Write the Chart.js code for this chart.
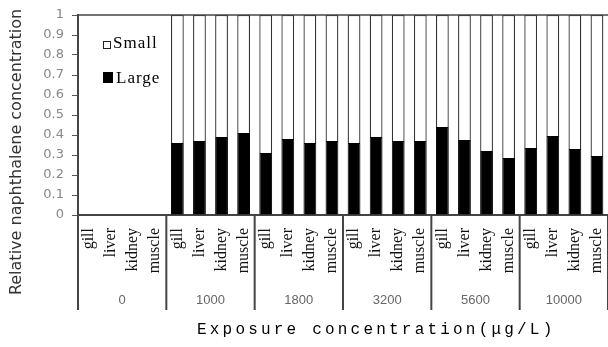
<!DOCTYPE html>
<html>
<head>
<meta charset="utf-8">
<script src="https://cdn.jsdelivr.net/npm/chart.js@4.4.1/dist/chart.umd.min.js"></script>
<style>
  html, body { margin: 0; padding: 0; background: #fff; }
  canvas { display: block; }
</style>
</head>
<body>
<canvas id="chart" width="608" height="347"></canvas>
<script>
// exposure groups (ug/L) and tissues inside each group
const groups = ['0', '1000', '1800', '3200', '5600', '10000'];
const tissues = ['gill', 'liver', 'kidney', 'muscle'];

// relative naphthalene concentration
const largeVals = [null, null, null, null,
    0.36, 0.37, 0.39, 0.41,
    0.31, 0.38, 0.36, 0.37,
    0.36, 0.39, 0.37, 0.37,
    0.44, 0.375, 0.32, 0.285,
    0.335, 0.395, 0.33, 0.295];
const smallVals = [null, null, null, null,
    0.64, 0.63, 0.61, 0.59,
    0.69, 0.62, 0.64, 0.63,
    0.64, 0.61, 0.63, 0.63,
    0.56, 0.625, 0.68, 0.715,
    0.665, 0.605, 0.67, 0.705];

const yMin = 0, yMax = 1, yStep = 0.1;
const xTitle = 'Exposure concentration(\u03bcg/L)';
const yTitle = 'Relative naphthalene concentration';

const labels = groups.flatMap(() => tissues);

// extra drawing: top border, group dividers + labels, legend, axis titles
const decor = {
    id: 'decor',
    afterDraw(chart) {
        const { ctx, chartArea } = chart;
        const x = chart.scales.x;
        const catW = (chartArea.right - chartArea.left) / labels.length;
        ctx.save();

        // top border
        ctx.strokeStyle = '#444';
        ctx.lineWidth = 1.5;
        ctx.beginPath();
        ctx.moveTo(chartArea.left, chartArea.top);
        ctx.lineTo(chartArea.right, chartArea.top);
        ctx.stroke();

        // group dividers and group names
        ctx.lineWidth = 2;
        ctx.strokeStyle = '#444';
        for (let g = 0; g <= groups.length; g++) {
            const px = chartArea.left + g * tissues.length * catW;
            ctx.beginPath();
            ctx.moveTo(px, chartArea.bottom);
            ctx.lineTo(px, 310);
            ctx.stroke();
        }
        ctx.fillStyle = '#666';
        ctx.font = '13px "Liberation Sans"';
        ctx.textAlign = 'center';
        ctx.textBaseline = 'middle';
        groups.forEach((g, i) => {
            const cx = (x.getPixelForValue(i * 4) + x.getPixelForValue(i * 4 + 3)) / 2;
            ctx.fillText(g, cx, 300);
        });

        // legend (Small above Large)
        ctx.font = '17px "Liberation Serif"';
        ctx.letterSpacing = '1px';
        ctx.textAlign = 'left';
        ctx.textBaseline = 'alphabetic';
        const ds = chart.data.datasets;
        ctx.strokeStyle = '#222';
        ctx.lineWidth = 1;
        ctx.fillStyle = '#fff';
        ctx.fillRect(103.5, 41.5, 7, 7);
        ctx.strokeRect(103.5, 41.5, 7, 7);
        ctx.fillStyle = '#000';
        ctx.fillText(ds[1].label, 113, 48);
        ctx.fillRect(103, 72, 10, 11);
        ctx.fillText(ds[0].label, 116, 83);

        // x title
        ctx.font = '16px "Liberation Mono"';
        ctx.letterSpacing = '3.2px';
        ctx.fillStyle = '#000';
        ctx.fillText(xTitle, 197, 334);

        // y title
        ctx.letterSpacing = '0px';
        ctx.translate(17, 152);
        ctx.rotate(-Math.PI / 2);
        ctx.font = '16px "DejaVu Sans"';
        ctx.fillStyle = '#333';
        ctx.textAlign = 'center';
        ctx.textBaseline = 'middle';
        ctx.fillText(yTitle, 0, 0);
        ctx.restore();
    }
};

new Chart(document.getElementById('chart').getContext('2d'), {
    type: 'bar',
    data: {
        labels: labels,
        datasets: [
            {
                label: 'Large',
                data: largeVals,
                backgroundColor: '#000',
                borderColor: '#000',
                borderWidth: 1
            },
            {
                label: 'Small',
                data: smallVals,
                backgroundColor: '#fff',
                borderColor: '#333',
                borderWidth: 1.3
            }
        ]
    },
    options: {
        responsive: false,
        animation: false,
        categoryPercentage: 1,
        barPercentage: 0.58,
        layout: { padding: { top: 15, right: 0, bottom: 0, left: 0 } },
        plugins: {
            legend: { display: false },
            tooltip: { enabled: false }
        },
        scales: {
            x: {
                stacked: true,
                grid: { display: false, drawTicks: false },
                border: { display: true, color: '#444', width: 2 },
                ticks: {
                    autoSkip: false,
                    minRotation: 90,
                    maxRotation: 90,
                    padding: 13,
                    color: '#111',
                    font: { family: 'Liberation Serif', size: 16 }
                },
                afterFit(scale) {
                    scale.height = 132;
                    scale.paddingLeft = 0;
                    scale.paddingRight = 0;
                }
            },
            y: {
                stacked: true,
                min: yMin,
                max: yMax,
                grid: { drawOnChartArea: false, tickLength: 6, color: '#555' },
                border: { display: true, color: '#444', width: 2 },
                ticks: {
                    stepSize: yStep,
                    padding: 8,
                    color: '#888',
                    font: { family: 'DejaVu Sans', size: 13 },
                    callback: v => String(Number(v.toFixed(1)))
                },
                afterFit(scale) {
                    scale.width = 78;
                    scale.paddingTop = 0;
                }
            }
        }
    },
    plugins: [decor]
});
</script>
</body>
</html>
